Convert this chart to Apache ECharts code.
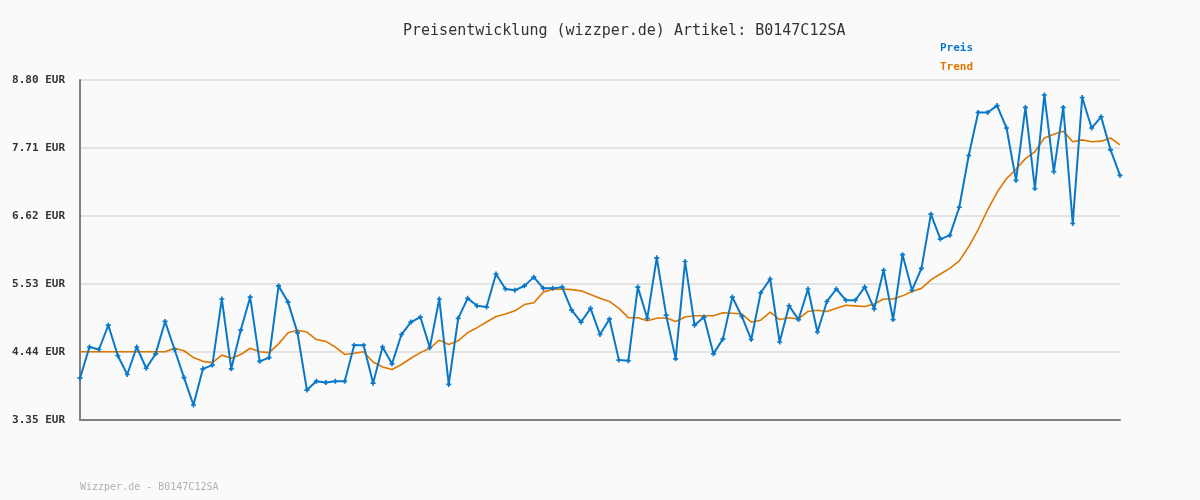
<!DOCTYPE html>
<html><head><meta charset="utf-8">
<script src="https://cdn.jsdelivr.net/npm/echarts@6/dist/echarts.min.js"></script>
<style>html,body{margin:0;padding:0;background:#fafafa}#c{width:1200px;height:500px}</style>
</head><body><div id="c"></div>
<script>
const title = 'Preisentwicklung (wizzper.de) Artikel: B0147C12SA';
const footer = 'Wizzper.de - B0147C12SA';
const seriesNames = ['Preis', 'Trend'];
const yTicks = [3.35, 4.44, 5.53, 6.62, 7.71, 8.80];
const preis = [
 4.02,4.52,4.48,4.87,4.38,4.08,4.52,4.18,4.41,4.93,
 4.48,4.03,3.59,4.17,4.23,5.29,4.17,4.79,5.32,4.29,
 4.35,5.50,5.24,4.75,3.83,3.97,3.95,3.97,3.97,4.55,
 4.55,3.94,4.52,4.25,4.72,4.92,5.00,4.51,5.29,3.92,
 4.98,5.30,5.18,5.16,5.69,5.45,5.43,5.50,5.64,5.46,
 5.46,5.48,5.11,4.92,5.14,4.72,4.97,4.31,4.30,5.48,
 4.98,5.95,5.03,4.33,5.89,4.87,5.00,4.41,4.65,5.32,
 5.01,4.64,5.39,5.61,4.60,5.18,4.96,5.45,4.76,5.25,
 5.45,5.27,5.27,5.48,5.13,5.75,4.96,6.00,5.43,5.78,
 6.65,6.25,6.31,6.76,7.59,8.28,8.28,8.39,8.03,7.19,
 8.36,7.06,8.56,7.33,8.36,6.50,8.52,8.03,8.21,7.68,
 7.27
];
const trend = [
 4.445,4.445,4.445,4.445,4.445,4.445,4.445,4.445,4.445,4.445,
 4.50,4.46,4.35,4.29,4.27,4.39,4.34,4.40,4.50,4.445,
 4.43,4.57,4.75,4.79,4.76,4.64,4.61,4.52,4.40,4.42,
 4.445,4.28,4.20,4.16,4.24,4.34,4.43,4.50,4.63,4.56,
 4.62,4.75,4.83,4.92,5.01,5.05,5.10,5.20,5.23,5.40,
 5.445,5.45,5.44,5.42,5.36,5.30,5.25,5.14,4.99,4.99,
 4.94,4.98,4.99,4.93,5.00,5.02,5.02,5.02,5.07,5.06,
 5.05,4.92,4.95,5.08,4.96,4.99,4.97,5.09,5.11,5.09,
 5.14,5.19,5.18,5.17,5.21,5.29,5.29,5.34,5.41,5.46,
 5.595,5.69,5.78,5.90,6.13,6.40,6.72,7.00,7.22,7.37,
 7.54,7.65,7.87,7.93,7.98,7.81,7.84,7.81,7.82,7.87,
 7.76
];
const categories = preis.map((_, i) => String(i + 1));
const BLUE = '#0a78c8', ORANGE = '#dc7800';
const MONO = '"DejaVu Sans Mono", "Liberation Mono", monospace';
const chart = echarts.init(document.getElementById('c'));
chart.setOption({
  animation: false,
  backgroundColor: '#fafafa',
  title: { text: title, left: 398, top: 19, textStyle: { fontFamily: MONO, fontSize: 15, fontWeight: 'normal', color: '#333' } },
  legend: {
    orient: 'vertical', left: 930, top: 38, itemWidth: 0, itemHeight: 0, itemGap: 8, icon: 'none',
    data: [
      { name: seriesNames[0], textStyle: { color: BLUE } },
      { name: seriesNames[1], textStyle: { color: ORANGE } }
    ],
    textStyle: { fontFamily: MONO, fontSize: 11, fontWeight: 'bold' }
  },
  graphic: [{ type: 'text', left: 80, top: 482, style: { text: footer, fill: '#b0b0b0', font: '10px ' + MONO } }],
  grid: { left: 80, right: 80, top: 80, bottom: 80, containLabel: false },
  xAxis: {
    type: 'category', data: categories, boundaryGap: false,
    axisLine: { lineStyle: { color: '#808080', width: 2 } },
    axisTick: { show: false }, axisLabel: { show: false }, splitLine: { show: false }
  },
  yAxis: {
    type: 'value', min: yTicks[0], max: yTicks[yTicks.length - 1], interval: 1.09,
    axisLine: { show: true, lineStyle: { color: '#808080', width: 2 } },
    axisTick: { show: false },
    axisLabel: { margin: 15, formatter: v => v.toFixed(2) + ' EUR', fontFamily: MONO, fontSize: 11, fontWeight: 'bold', color: '#333' },
    splitLine: { lineStyle: { color: '#e3e3e3', width: 2 } }
  },
  series: [
    { name: seriesNames[0], type: 'line', data: preis, color: BLUE,
      lineStyle: { width: 2, color: BLUE },
      symbol: 'path://M-1,-3L1,-3L1,-1L3,-1L3,1L1,1L1,3L-1,3L-1,1L-3,1L-3,-1L-1,-1Z', symbolSize: 5,
      itemStyle: { color: BLUE }, z: 3 },
    { name: seriesNames[1], type: 'line', data: trend, color: ORANGE,
      lineStyle: { width: 1.6, color: ORANGE }, showSymbol: false, symbol: 'none', z: 2 }
  ]
});
</script></body></html>
